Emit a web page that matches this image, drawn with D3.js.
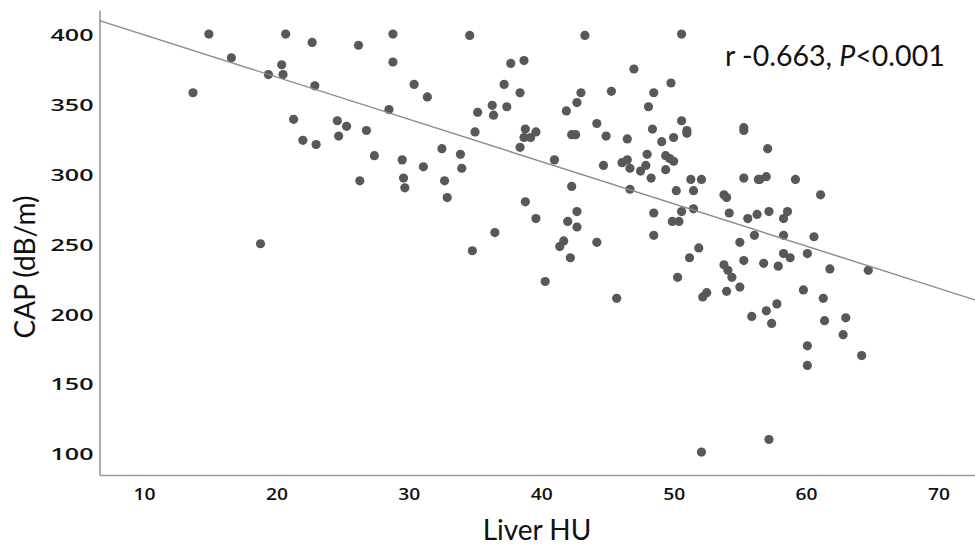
<!DOCTYPE html>
<head>
    <title>Liver HU vs CAP</title>
    <script src="https://d3js.org/d3.v7.min.js"></script>
</head>
<style>
    body { margin: 0; background: #fff; }
    svg { display: block; }
    .tick line { display: none; }
</style>
<body>
<svg width="975" height="546"></svg>
<script>
    // values
    var liverHU = [14.9,20.7,22.7,16.6,20.4,19.4,20.5,22.9,13.7,21.3,
        22.0,23.0,18.8,26.2,28.8,28.8,34.6,30.4,31.4,28.5,
        24.6,25.3,24.7,26.8,27.4,29.5,31.1,26.3,29.6,29.7,
        32.5,33.9,34.0,32.7,32.9,37.7,38.7,37.2,38.4,36.3,
        35.2,36.4,37.4,35.0,38.8,38.7,39.2,39.6,38.4,38.8,
        39.6,36.5,34.8,43.3,50.6,47.0,49.8,43.0,42.7,41.9,
        45.3,48.5,48.1,42.3,42.6,44.2,44.9,46.5,48.4,49.1,
        50.0,50.6,51.0,51.0,41.0,44.7,46.1,46.5,46.7,48.0,
        47.9,47.5,48.3,49.4,49.7,50.0,49.4,51.3,52.1,50.2,
        51.5,42.3,46.7,55.3,55.3,55.3,56.4,53.8,54.0,50.6,
        51.5,54.2,55.6,56.3,48.5,42.7,42.0,42.7,49.9,50.4,
        48.5,41.7,41.4,44.2,51.9,55.0,56.1,57.1,56.5,57.0,
        59.2,61.1,57.2,58.6,58.3,58.3,60.6,42.2,40.3,45.7,
        51.2,50.3,53.8,54.1,54.4,55.3,52.2,52.5,54.0,55.0,
        55.9,52.1,58.3,58.8,60.1,56.8,57.9,61.8,64.7,59.8,
        61.3,57.8,57.0,57.4,61.4,63.0,62.8,60.1,60.1,64.2,57.2];

    var capValues = [401,401,395,384,379,372,372,364,359,340,
        325,322,251,393,401,381,400,365,356,347,
        339,335,328,332,314,311,306,296,298,291,
        319,315,305,296,284,380,382,365,359,350,
        345,343,349,331,333,327,327,331,320,281,
        269,259,246,400,401,376,366,359,352,346,
        360,359,349,329,329,337,328,326,333,324,
        327,339,332,330,311,307,309,311,305,315,
        307,303,298,314,312,310,304,297,297,289,
        289,292,290,334,332,298,297,286,284,274,
        276,273,269,272,273,274,267,263,267,267,
        257,253,249,252,248,252,257,319,297,299,
        297,286,274,274,269,257,256,241,224,212,
        241,227,236,232,227,239,213,216,217,220,
        199,102,244,241,244,237,235,233,232,218,
        212,208,203,194,196,198,186,178,164,171,111];

    var xTicks = [10, 20, 30, 40, 50, 60, 70];
    var yTicks = [100, 150, 200, 250, 300, 350, 400];

    // fit line
    var fitIntercept = 430.7,
        fitSlope = -3.022;
    var statText = "r -0.663, ";

    var svg = d3.select("svg");

    var x = d3.scaleLinear().domain([6.64, 72.76]).range([99.5, 975]);
    var y = d3.scaleLinear().domain([85.6, 418.2]).range([475, 10]);

    var points = liverHU.map(function(d, i) { return {hu: d, cap: capValues[i]}; });

    // axes
    var gx = svg.append("g")
        .attr("transform", "translate(0,475)")
        .call(d3.axisBottom(x).tickValues(xTicks).tickSizeInner(0).tickSizeOuter(0).tickPadding(14));
    var gy = svg.append("g")
        .attr("transform", "translate(99.5,0)")
        .call(d3.axisLeft(y).tickValues(yTicks).tickSizeInner(0).tickSizeOuter(0).tickPadding(6));

    svg.selectAll(".domain")
        .attr("stroke", "#999")
        .attr("stroke-width", 1.6);

    gx.selectAll("text")
        .attr("fill", "#111")
        .attr("textLength", 22)
        .attr("lengthAdjust", "spacingAndGlyphs")
        .style("font-family", "'Open Sans'")
        .style("font-weight", 600)
        .style("font-size", "16px");
    gy.selectAll("text")
        .attr("fill", "#111")
        .attr("textLength", 43)
        .attr("lengthAdjust", "spacingAndGlyphs")
        .style("font-family", "'Open Sans'")
        .style("font-weight", 600)
        .style("font-size", "15.5px");

    // points
    svg.append("g").selectAll("circle")
        .data(points)
        .enter().append("circle")
        .attr("cx", function(d) { return x(d.hu); })
        .attr("cy", function(d) { return y(d.cap); })
        .attr("r", 4.6)
        .attr("fill", "#585858");

    // regression line
    var xd = x.domain();
    svg.append("line")
        .attr("x1", x(xd[0]))
        .attr("y1", y(fitIntercept + fitSlope * xd[0]))
        .attr("x2", x(xd[1]))
        .attr("y2", y(fitIntercept + fitSlope * xd[1]))
        .attr("stroke", "#8a8a8a")
        .attr("stroke-width", 1.4);

    // labels
    svg.append("text")
        .attr("x", 537)
        .attr("y", 540)
        .attr("text-anchor", "middle")
        .attr("fill", "#111")
        .style("font", "28px Lato")
        .text("Liver HU");

    svg.append("text")
        .attr("transform", "translate(35,267) rotate(-90)")
        .attr("text-anchor", "middle")
        .attr("fill", "#111")
        .style("font", "28px Lato")
        .text("CAP (dB/m)");

    var stat = svg.append("text")
        .attr("x", 725)
        .attr("y", 66)
        .attr("fill", "#111")
        .style("font", "28.5px Lato");
    stat.append("tspan").text(statText);
    stat.append("tspan").style("font-style", "italic").text("P");
    stat.append("tspan").text("<0.001");
</script>
</body>
